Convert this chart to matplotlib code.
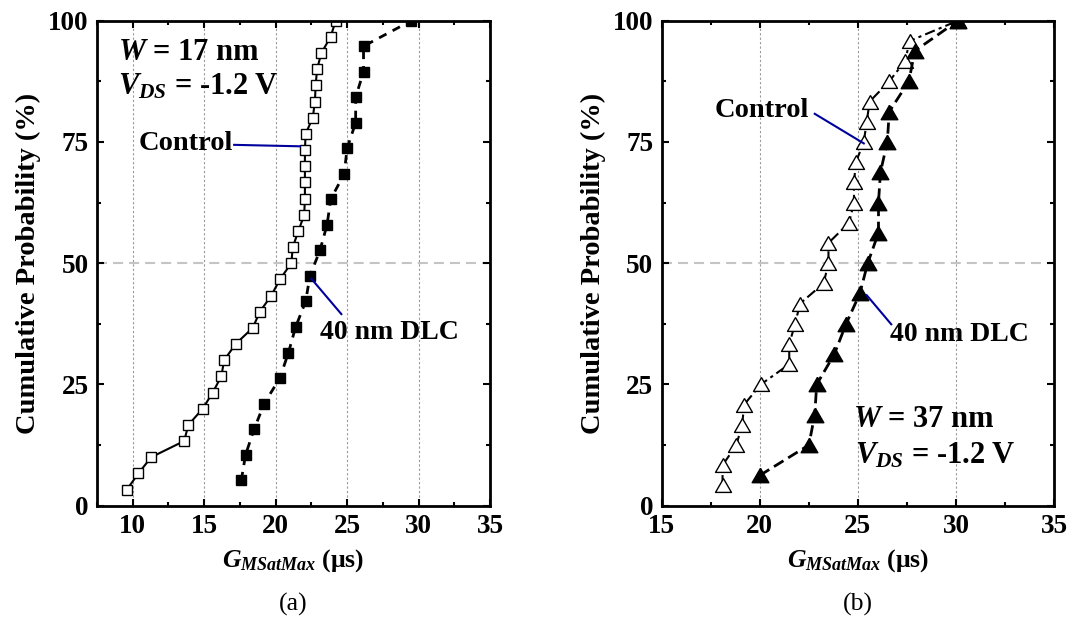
import matplotlib
matplotlib.use("Agg")
import matplotlib.pyplot as plt
from matplotlib.ticker import MultipleLocator

plt.rcParams["font.family"] = "Liberation Serif"
plt.rcParams["font.weight"] = "bold"
plt.rcParams["axes.labelweight"] = "bold"
plt.rcParams["mathtext.fontset"] = "custom"
plt.rcParams["mathtext.it"] = "Liberation Serif:italic:bold"
plt.rcParams["mathtext.rm"] = "Liberation Serif:bold"
plt.rcParams["mathtext.bf"] = "Liberation Serif:bold"

# (a) W = 17 nm : 30 control devices, 19 DLC devices
ctrl_a_x = [9.6, 10.4, 11.3, 13.6, 13.9, 14.9, 15.6, 16.2, 16.4, 17.2,
            18.4, 18.9, 19.7, 20.3, 21.1, 21.2, 21.6, 22.0, 22.05, 22.05,
            22.05, 22.05, 22.1, 22.6, 22.75, 22.8, 22.9, 23.2, 23.85, 24.2]
ctrl_a_y = [100 * (i + 1) / 30 for i in range(30)]
dlc_a_x = [17.6, 17.9, 18.5, 19.2, 20.3, 20.9, 21.4, 22.1, 22.4, 23.1,
           23.6, 23.85, 24.8, 25.0, 25.6, 25.6, 26.15, 26.15, 29.5]
dlc_a_y = [100 * (i + 1) / 19 for i in range(19)]

# (b) W = 37 nm : 24 control devices, 16 DLC devices
ctrl_b_x = [18.1, 18.1, 18.8, 19.1, 19.2, 20.05, 21.5, 21.5, 21.8, 22.05,
            23.25, 23.5, 23.5, 24.55, 24.8, 24.8, 24.9, 25.3, 25.45, 25.6,
            26.6, 27.4, 27.65, 30.1]
ctrl_b_y = [100 * (i + 1) / 24 for i in range(24)]
dlc_b_x = [20.0, 22.5, 22.8, 22.9, 23.8, 24.4, 25.1, 25.5,
           26.05, 26.05, 26.15, 26.5, 26.6, 27.6, 27.9, 30.1]
dlc_b_y = [100 * (i + 1) / 16 for i in range(16)]

navy = "#00009c"
# closed triangle, a bit wider than tall
tri = [(0, 0.866), (-1, -0.866), (1, -0.866), (0, 0.866)]

fig = plt.figure(figsize=(10.76, 6.23), dpi=100)
ax1 = fig.add_axes([0.0901, 0.1883, 0.3653, 0.7785])
ax2 = fig.add_axes([0.615, 0.1883, 0.3646, 0.7785])


def style(ax, xmin):
    ax.set_xlim(xmin, 35)
    ax.set_ylim(0, 100)
    ax.xaxis.set_major_locator(MultipleLocator(5))
    ax.xaxis.set_minor_locator(MultipleLocator(2.5))
    ax.yaxis.set_major_locator(MultipleLocator(25))
    ax.yaxis.set_minor_locator(MultipleLocator(12.5))
    ax.tick_params(which="both", direction="in", top=True, right=True,
                   width=1.5, labelsize=19.5, pad=6)
    ax.tick_params(which="major", length=5)
    ax.tick_params(which="minor", length=3)
    for s in ax.spines.values():
        s.set_linewidth(2)
    for v in range(10, 35, 5):
        if xmin < v < 35:
            ax.axvline(v, color="#999999", lw=0.8, ls=(0, (2, 2)), zorder=0)
    ax.axhline(50, color="#c4c4c4", lw=1.5, ls=(0, (4.8, 2.9)), zorder=0)
    ax.set_xlabel(r"$G_{MSatMax}$ (μs)", fontsize=18.5, labelpad=6)
    ax.set_ylabel("Cumulative Probability (%)", fontsize=20.5, labelpad=5)


style(ax1, 7.5)
style(ax2, 15)

ax1.plot(ctrl_a_x, ctrl_a_y, color="black", lw=1.5, marker="s", ms=6.8,
         mfc="white", mec="black", mew=1)
ax1.plot(dlc_a_x, dlc_a_y, color="black", lw=2, ls=(0, (3, 2.5)),
         marker="s", ms=6.8, mfc="black", mec="black")

ax2.plot(ctrl_b_x, ctrl_b_y, color="black", lw=1.5, ls=(0, (5, 2, 1.5, 2)),
         marker=tri, ms=11.5, mfc="white", mec="black", mew=1)
ax2.plot(dlc_b_x, dlc_b_y, color="black", lw=2, ls=(0, (4, 2)),
         marker=tri, ms=12, mfc="black", mec="black")

ax1.text(8.97, 91.9, r"$W$ = 17 nm", fontsize=22, va="baseline")
ax1.text(8.97, 84.8, r"$V_{DS}$ = -1.2 V", fontsize=22, va="baseline")
ax1.text(10.44, 73.4, "Control", fontsize=20.5, va="baseline")
ax1.plot([17.1, 21.7], [74.4, 74.1], color=navy, lw=1.5)
ax1.text(23.1, 34.3, "40 nm DLC", fontsize=20, va="baseline")
ax1.plot([22.5, 24.6], [46.8, 39.5], color=navy, lw=1.5)

ax2.text(17.72, 80.1, "Control", fontsize=20.5, va="baseline")
ax2.plot([22.8, 25.3], [80.8, 74.7], color=navy, lw=1.5)
ax2.text(26.65, 34.0, "40 nm DLC", fontsize=20, va="baseline")
ax2.plot([25.45, 26.7], [43.4, 37.4], color=navy, lw=1.5)
ax2.text(24.76, 16.3, r"$W$ = 37 nm", fontsize=22, va="baseline")
ax2.text(24.86, 8.7, r"$V_{DS}$ = -1.2 V", fontsize=22, va="baseline")

fig.text(0.2728, 0.029, "(a)", fontsize=18.5, fontweight="normal",
         ha="center", va="center")
fig.text(0.7973, 0.029, "(b)", fontsize=18.5, fontweight="normal",
         ha="center", va="center")

fig.savefig("out.png", dpi=100)
